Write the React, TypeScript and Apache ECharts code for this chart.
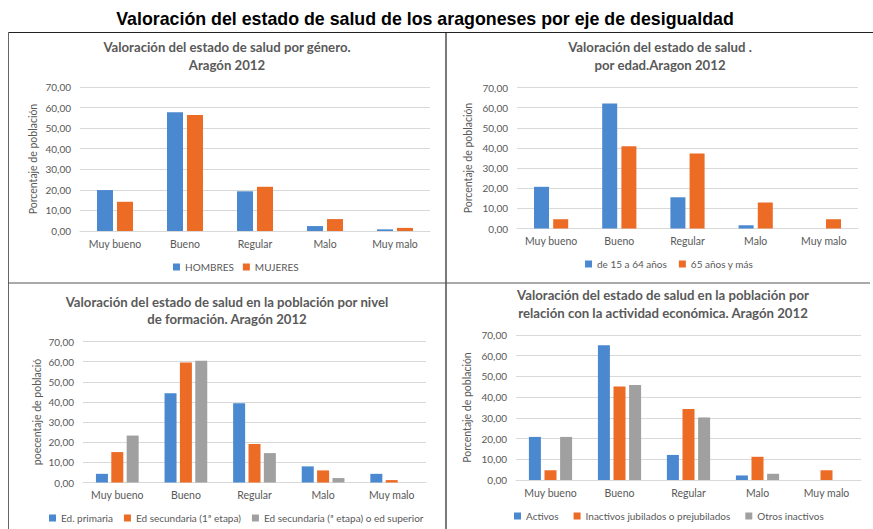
import React, { useEffect, useRef } from "react";
import * as echarts from "echarts";

const categories = ["Muy bueno", "Bueno", "Regular", "Malo", "Muy malo"];
const yTicks = [0, 10, 20, 30, 40, 50, 60, 70];

// Panel 1: género
const hombres = [19.9, 57.7, 19.3, 2.4, 0.8];
const mujeres = [14.2, 56.4, 21.5, 5.8, 1.5];
// Panel 2: edad
const edad15a64 = [20.7, 62.0, 15.5, 1.6, 0];
const edad65mas = [4.6, 40.8, 37.2, 12.9, 4.6];
// Panel 3: formación
const edPrimaria = [4.3, 44.3, 39.4, 8.0, 4.3];
const edSec1 = [15.1, 59.6, 19.1, 6.0, 1.2];
const edSec2Sup = [23.3, 60.4, 14.6, 2.2, 0];
// Panel 4: actividad económica
const activos = [20.8, 65.0, 12.1, 2.2, 0];
const inactivosJub = [4.7, 45.1, 34.3, 11.2, 4.7];
const otrosInactivos = [20.8, 45.9, 30.2, 3.0, 0];

const BLUE = "#4A88D0";
const ORANGE = "#EC6B25";
const GRAY = "#A0A0A0";
const TXT = "#595959";
const FONT = "Lato, 'Noto Sans', sans-serif";

export default function App() {
  const ref = useRef<HTMLDivElement>(null);
  useEffect(() => {
    if (!ref.current) return;
    const chart = echarts.init(ref.current, undefined, { renderer: "svg" });

    const grids = [
      { left: 80, top: 87, width: 350, height: 144 },
      { left: 517, top: 87.5, width: 341, height: 141 },
      { left: 83, top: 341.5, width: 343, height: 141 },
      { left: 516, top: 335, width: 345, height: 145 },
    ];
    const axisNames = [
      "Porcentaje de población",
      "Porcentaje de población",
      "poecentaje de població",
      "Porcentaje de población",
    ];
    const nameGaps = [42, 44, 41, 44];

    const xAxes = grids.map((_, i) => ({
      type: "category",
      gridIndex: i,
      data: categories,
      axisLine: { lineStyle: { color: "#d9d9d9" } },
      axisTick: { show: false },
      axisLabel: { color: TXT, fontSize: 10.5, fontFamily: FONT, margin: 7, interval: 0 },
    }));
    const yAxes = grids.map((_, i) => ({
      type: "value",
      gridIndex: i,
      min: yTicks[0],
      max: yTicks[yTicks.length - 1],
      interval: 10,
      name: axisNames[i],
      nameLocation: "middle",
      nameGap: nameGaps[i],
      nameTextStyle: { color: TXT, fontSize: 10.5, fontFamily: FONT },
      axisLine: { show: false },
      axisTick: { show: false },
      splitLine: { lineStyle: { color: "#d9d9d9" } },
      axisLabel: {
        color: TXT,
        fontSize: 10,
        fontFamily: FONT,
        margin: 9,
        formatter: (v: number) => v.toFixed(2).replace(".", ","),
      },
    }));

    const mk = (name: string, data: number[], idx: number, color: string, w: number, gap: string) => ({
      type: "bar",
      name,
      data,
      xAxisIndex: idx,
      yAxisIndex: idx,
      barWidth: w,
      barGap: gap,
      itemStyle: { color },
    });

    const series = [
      mk("HOMBRES", hombres, 0, BLUE, 16, "25%"),
      mk("MUJERES", mujeres, 0, ORANGE, 16, "25%"),
      mk("de 15 a 64 años", edad15a64, 1, BLUE, 15, "28%"),
      mk("65 años y más", edad65mas, 1, ORANGE, 15, "28%"),
      mk("Ed. primaria", edPrimaria, 2, BLUE, 12, "28%"),
      mk("Ed secundaria (1ª etapa)", edSec1, 2, ORANGE, 12, "28%"),
      mk("Ed secundaria (ª etapa) o ed superior", edSec2Sup, 2, GRAY, 12, "28%"),
      mk("Activos", activos, 3, BLUE, 12, "30%"),
      mk("Inactivos jubilados o prejubilados", inactivosJub, 3, ORANGE, 12, "30%"),
      mk("Otros inactivos", otrosInactivos, 3, GRAY, 12, "30%"),
    ];

    const titleStyle = { color: TXT, fontSize: 13.2, fontWeight: "bold", fontFamily: FONT, lineHeight: 18 };
    const titles = [
      {
        text: "Valoración del estado de salud de los aragoneses por eje de desigualdad",
        left: 425,
        top: 10,
        textAlign: "center",
        padding: 0,
        textStyle: { color: "#000", fontSize: 17.8, fontWeight: "bold", fontFamily: "'Liberation Sans', Arial, sans-serif" },
      },
      { text: "Valoración del estado de salud por género.\nAragón 2012", left: 227, top: 37.5, textAlign: "center", padding: 0, textStyle: titleStyle },
      { text: "Valoración del estado de salud .\npor edad.Aragon 2012", left: 660, top: 37.5, textAlign: "center", padding: 0, textStyle: titleStyle },
      { text: "Valoración del estado de salud en la población por nivel\nde formación. Aragón 2012", left: 227, top: 293.5, textAlign: "center", padding: 0, textStyle: { ...titleStyle, lineHeight: 17 } },
      { text: "Valoración del estado de salud en la población por\nrelación con la actividad económica. Aragón 2012", left: 663, top: 285.5, textAlign: "center", padding: 0, textStyle: titleStyle },
    ];

    const legendBase = {
      itemWidth: 7,
      itemHeight: 7,
      itemGap: 12,
      icon: "rect",
      padding: 0,
      textStyle: { color: TXT, fontSize: 10, fontFamily: FONT },
    };
    const legends = [
      { ...legendBase, itemGap: 9, data: ["HOMBRES", "MUJERES"], left: 173, top: 262 },
      { ...legendBase, data: ["de 15 a 64 años", "65 años y más"], left: 585, top: 259 },
      { ...legendBase, itemGap: 11, data: ["Ed. primaria", "Ed secundaria (1ª etapa)", "Ed secundaria (ª etapa) o ed superior"], left: 49, top: 513 },
      { ...legendBase, itemGap: 15, data: ["Activos", "Inactivos jubilados o prejubilados", "Otros inactivos"], left: 514, top: 511 },
    ];

    const lineStyleDark = { stroke: "#222", lineWidth: 1.2 };
    const graphic = [
      { type: "line", shape: { x1: 8, y1: 32.5, x2: 873, y2: 32.5 }, style: lineStyleDark },
      { type: "line", shape: { x1: 8.5, y1: 32, x2: 8.5, y2: 529 }, style: { stroke: "#666", lineWidth: 1 } },
      { type: "line", shape: { x1: 446, y1: 32, x2: 446, y2: 529 }, style: lineStyleDark },
      { type: "line", shape: { x1: 8, y1: 283, x2: 870, y2: 283 }, style: { stroke: "#555", lineWidth: 1.2 } },
    ];

    chart.setOption({
      animation: false,
      backgroundColor: "#fff",
      title: titles,
      legend: legends,
      grid: grids,
      xAxis: xAxes,
      yAxis: yAxes,
      series,
      graphic,
    });
    return () => chart.dispose();
  }, []);
  return <div ref={ref} style={{ position: "fixed", left: 0, top: 0, width: 873, height: 529 }} />;
}
